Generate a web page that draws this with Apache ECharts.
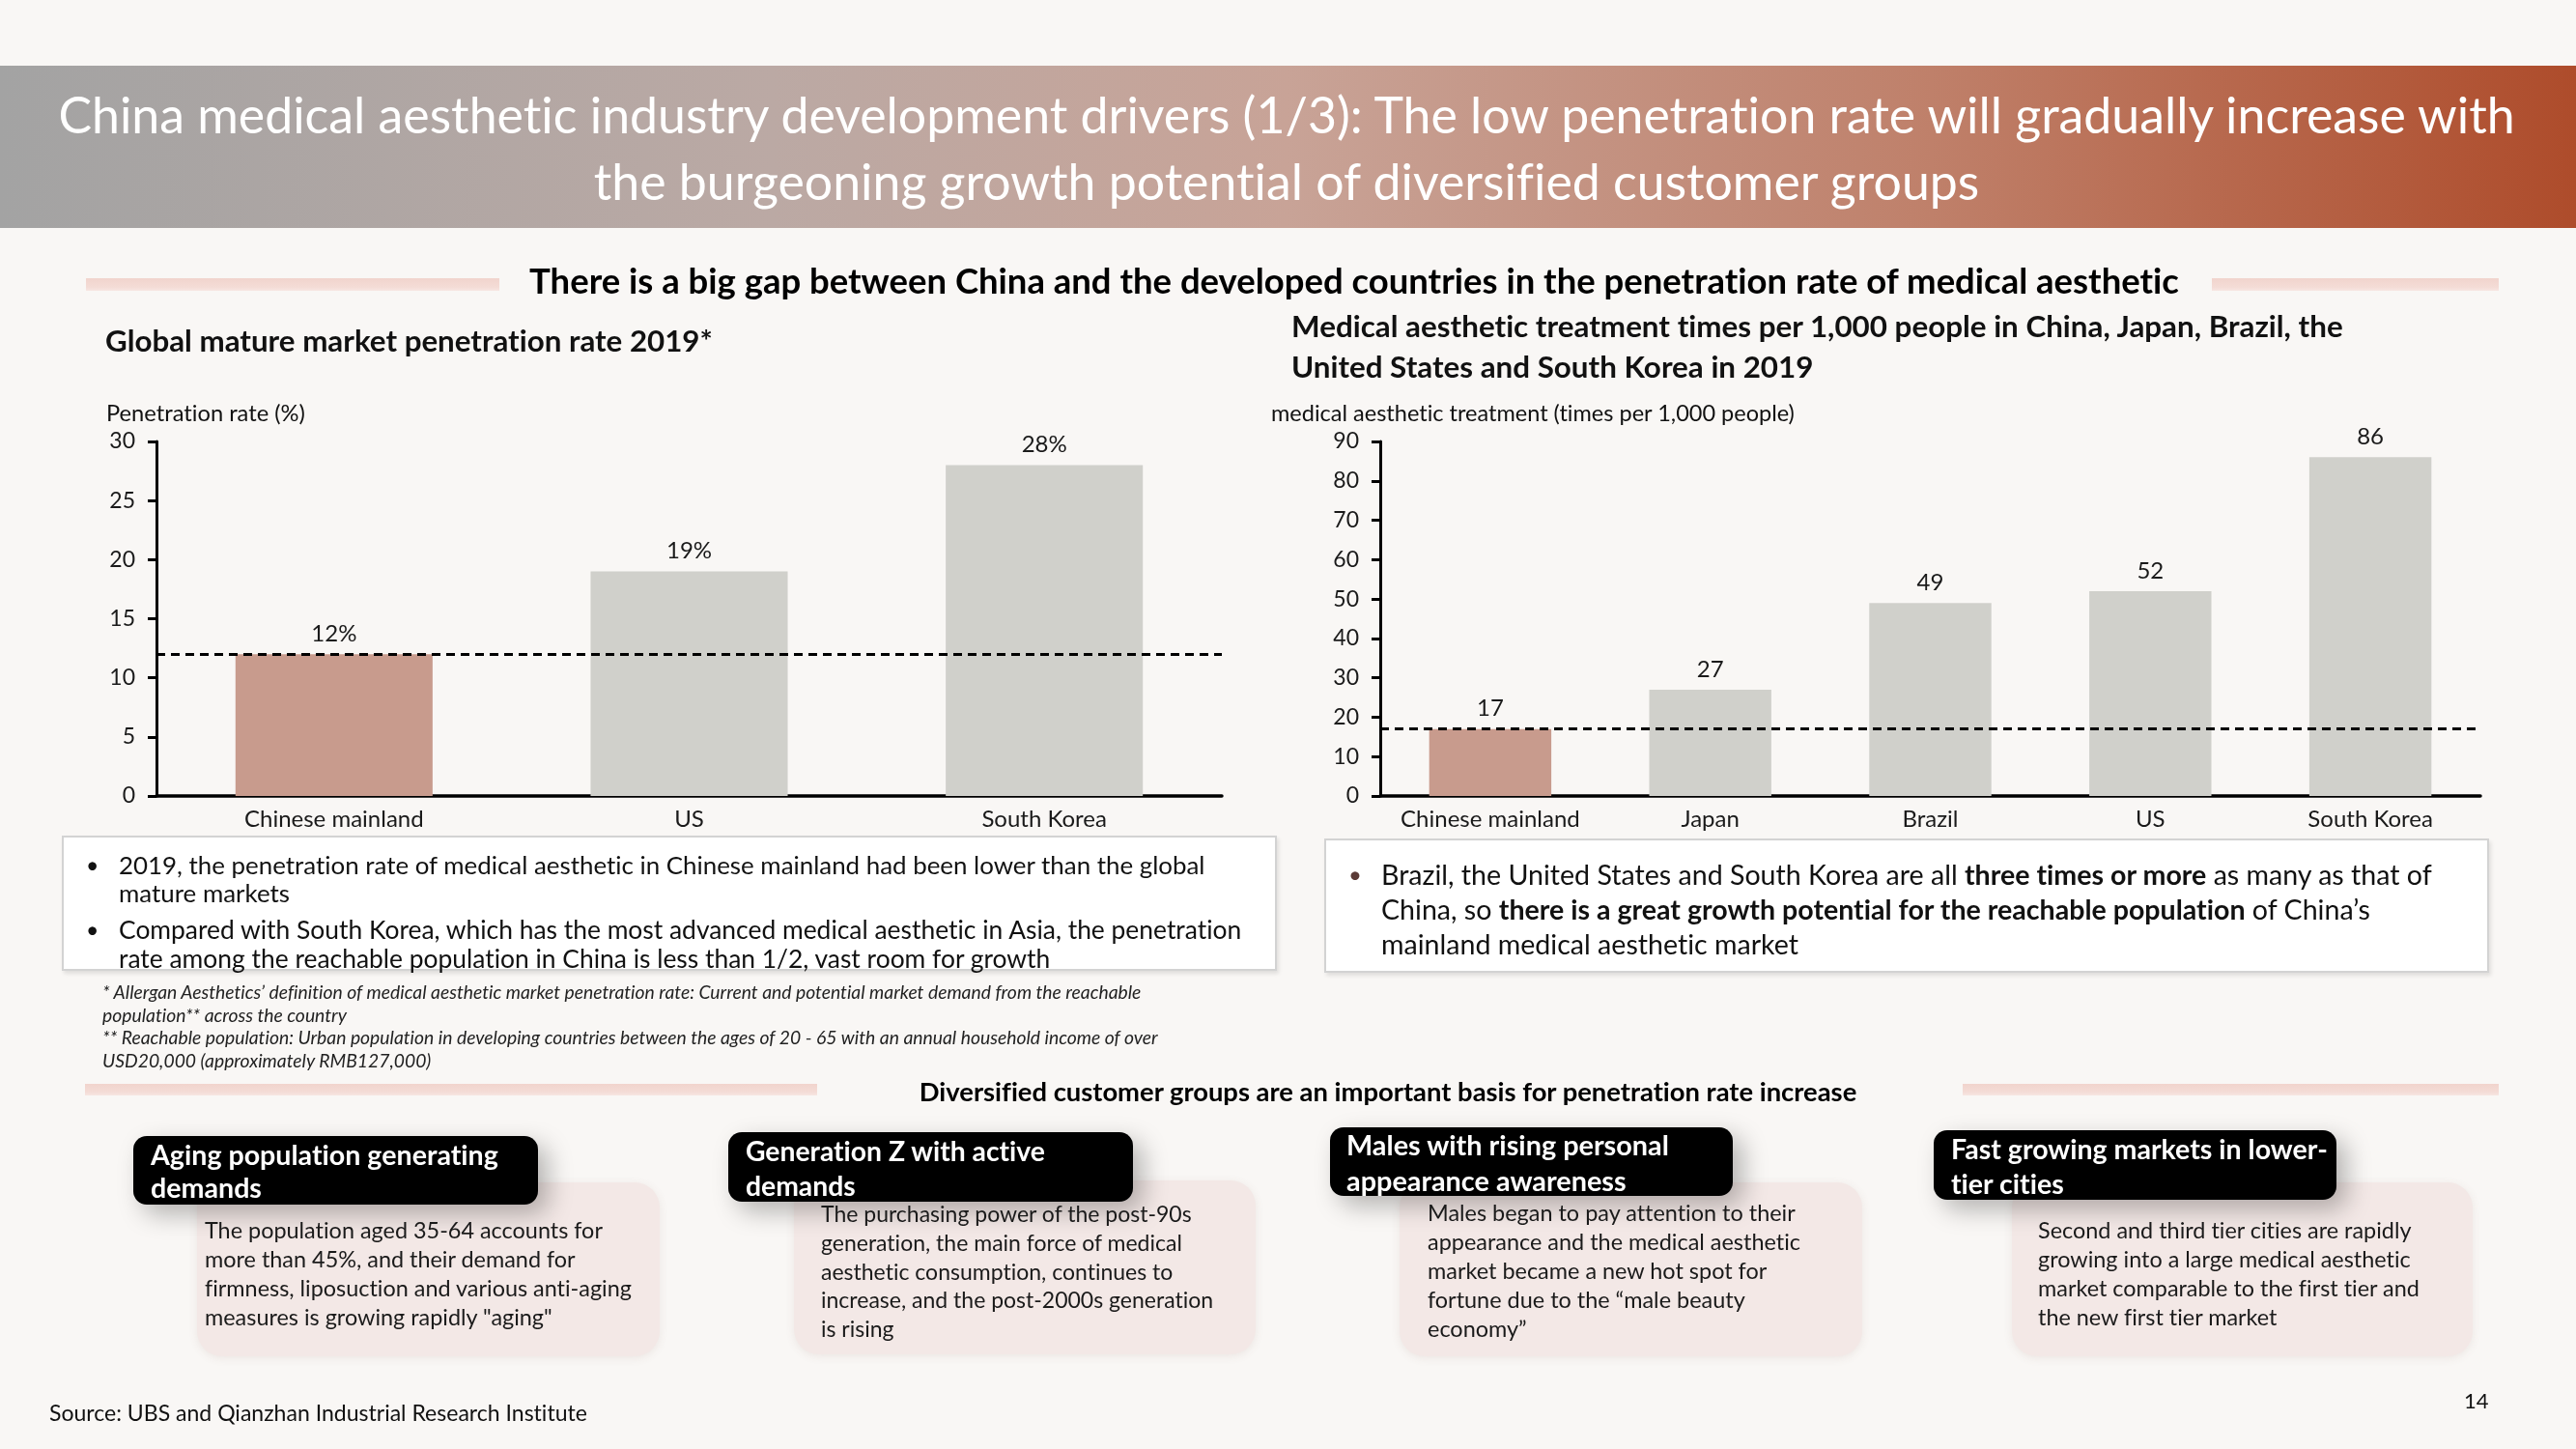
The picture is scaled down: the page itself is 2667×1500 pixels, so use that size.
<!DOCTYPE html>
<html>
<head>
<meta charset="utf-8">
<script src="https://cdn.jsdelivr.net/npm/echarts@6/dist/echarts.min.js"></script>
<style>
  html, body { margin:0; padding:0; width:2667px; height:1500px; overflow:hidden; background:#f9f7f5; font-family:'Lato','Open Sans',sans-serif; font-variant-ligatures:none; font-feature-settings:"liga" 0, "clig" 0, "dlig" 0; }
  #chart { position:absolute; left:0; top:0; width:2667px; height:1500px; z-index:2; }
  .abs { position:absolute; }
  .tx { position:absolute; white-space:nowrap; z-index:3; }
  .ln { display:inline-block; }
  #header { left:0; top:68px; width:2667px; height:168px;
    background:linear-gradient(90deg,#a3a3a3 0%,#bba9a4 30%,#c8a397 50%,#bf806a 75%,#ae4c2b 100%); }
  .pinkbar { background:linear-gradient(180deg,#f1d4cd 0%,#f4dcd6 70%,#f7e6e2 100%); }
  .box { background:#ffffff; border:2px solid #d3d3d3; box-shadow:2px 3px 4px rgba(0,0,0,0.10); box-sizing:border-box; }
  .card { background:#f3e8e6; border-radius:26px; box-shadow:0 2px 10px rgba(120,80,70,0.10); }
  .tag { background:#000; border-radius:14px; box-shadow:10px 10px 26px rgba(0,0,0,0.28); z-index:3; }
</style>
</head>
<body>
<div id="header" class="abs"></div>
<div id="chart"></div>
<script>
// ---------- Data ----------
const penetrationCategories = ['Chinese mainland', 'US', 'South Korea'];
const penetrationValues = [12, 19, 28];
const penetrationChinaLevel = 12;
const penetrationAxis = { min: 0, max: 30, interval: 5 };

const treatmentCategories = ['Chinese mainland', 'Japan', 'Brazil', 'US', 'South Korea'];
const treatmentValues = [17, 27, 49, 52, 86];
const treatmentChinaLevel = 17;
const treatmentAxis = { min: 0, max: 90, interval: 10 };

// ---------- Static layout (boxes) ----------
function addBox(cls, x1, y1, x2, y2) {
  const d = document.createElement('div');
  d.className = 'abs ' + cls;
  d.style.left = x1 + 'px'; d.style.top = y1 + 'px';
  d.style.width = (x2 - x1) + 'px'; d.style.height = (y2 - y1) + 'px';
  document.body.appendChild(d);
  return d;
}
addBox('pinkbar', 89, 288, 517, 301);
addBox('pinkbar', 2290, 288, 2587, 301);
addBox('pinkbar', 88, 1122, 846, 1134);
addBox('pinkbar', 2032, 1122, 2587, 1134);
addBox('box', 64, 865, 1322, 1005);
addBox('box', 1371, 868, 2577, 1007);

const cards = [
  { pink:[204,1224,683,1404], tag:[138,1176,557,1247],
    label:{x:156, yc:1195, lh:34, t:0, w:360, lines:['Aging population generating','demands']},
    body:{x:212, yc:1273, lh:30, t:2, w:442, lines:['The population aged 35-64 accounts for','more than 45%, and their demand for','firmness, liposuction and various anti-aging','measures is growing rapidly "aging"']} },
  { pink:[822,1222,1300,1402], tag:[754,1172,1173,1244],
    label:{x:772, yc:1191, lh:36, t:0, w:310, lines:['Generation Z with active','demands']},
    body:{x:850, yc:1257, lh:29.7, t:3, w:406, lines:['The purchasing power of the post-90s','generation, the main force of medical','aesthetic consumption, continues to','increase, and the post-2000s generation','is rising']} },
  { pink:[1449,1224,1928,1404], tag:[1377,1167,1794,1238],
    label:{x:1394, yc:1185, lh:37, t:0, w:334, lines:['Males with rising personal','appearance awareness']},
    body:{x:1478, yc:1255, lh:30, t:1, w:386, lines:['Males began to pay attention to their','appearance and the medical aesthetic','market became a new hot spot for','fortune due to the \u201cmale beauty','economy\u201d']} },
  { pink:[2083,1224,2560,1404], tag:[2002,1170,2419,1242],
    label:{x:2020, yc:1189, lh:36, t:0, w:390, lines:['Fast growing markets in lower-','tier cities']},
    body:{x:2110, yc:1273, lh:30, t:2, w:395, lines:['Second and third tier cities are rapidly','growing into a large medical aesthetic','market comparable to the first tier and','the new first tier market']} }
];
cards.forEach(c => {
  addBox('card', ...c.pink);
  addBox('tag', ...c.tag);
});

// ---------- Text ----------
const fitList = [];
function addText(s) {
  const d = document.createElement('div');
  d.className = 'tx';
  d.style.lineHeight = s.lh + 'px';
  d.style.top = (s.yc - s.lh / 2) + 'px';
  d.style.fontSize = s.size + 'px';
  d.style.fontWeight = s.bold ? '700' : '400';
  d.style.color = s.color || '#111';
  if (s.italic) d.style.fontStyle = 'italic';
  if (s.center) { d.style.left = s.x + 'px'; d.style.transform = 'translateX(-50%)'; d.style.textAlign = 'center'; }
  else d.style.left = s.x + 'px';
  d.innerHTML = s.lines.map(l => '<span class="ln">' + l + '</span>').join('<br>');
  document.body.appendChild(d);
  if (s.w) fitList.push({ el: d, s });
  return d;
}

addText({ x:1332, yc:118, lh:69, size:48, color:'#ffffff', center:true, t:0, w:2544,
  lines:['China medical aesthetic industry development drivers (1/3): The low penetration rate will gradually increase with',
         'the burgeoning growth potential of diversified customer groups'] });
addText({ x:1402, yc:290, lh:40, size:33, bold:true, color:'#000', center:true, t:0, w:1708,
  lines:['There is a big gap between China and the developed countries in the penetration rate of medical aesthetic'] });
addText({ x:109, yc:352, lh:36, size:28, bold:true, color:'#111', t:0, w:629,
  lines:['Global mature market penetration rate 2019*'] });
addText({ x:1337, yc:337, lh:42, size:27, bold:true, color:'#111', t:0, w:1089,
  lines:['Medical aesthetic treatment times per 1,000 people in China, Japan, Brazil, the','United States and South Korea in 2019'] });
addText({ x:110, yc:427, lh:26, size:20, color:'#111', t:0, w:206, lines:['Penetration rate (%)'] });
addText({ x:1316, yc:427, lh:26, size:20, color:'#111', t:0, w:542, lines:['medical aesthetic treatment (times per 1,000 people)'] });

// left bullets
addText({ x:89, yc:895, lh:29, size:23, color:'#111', lines:['\u2022'] });
addText({ x:123, yc:895, lh:29, size:23, color:'#111', t:0, w:1125,
  lines:['2019, the penetration rate of medical aesthetic in Chinese mainland had been lower than the global','mature markets'] });
addText({ x:89, yc:962, lh:29, size:23, color:'#111', lines:['\u2022'] });
addText({ x:123, yc:962, lh:30, size:23, color:'#111', t:0, w:1163,
  lines:['Compared with South Korea, which has the most advanced medical aesthetic in Asia, the penetration','rate among the reachable population in China is less than 1/2, vast room for growth'] });

// right bullet
addText({ x:1396, yc:905, lh:36, size:24, color:'#5a3a36', lines:['\u2022'] });
addText({ x:1430, yc:905, lh:36, size:24, color:'#111', t:0, w:1088,
  lines:['Brazil, the United States and South Korea are all <b>three times or more</b> as many as that of',
         'China, so <b>there is a great growth potential for the reachable population</b> of China\u2019s',
         'mainland medical aesthetic market'] });

// footnotes
addText({ x:106, yc:1027, lh:23.6, size:16, italic:true, color:'#222', t:0, w:1076,
  lines:['* Allergan Aesthetics\u2019 definition of medical aesthetic market penetration rate: Current and potential market demand from the reachable',
         'population** across the country',
         '** Reachable population: Urban population in developing countries between the ages of 20 - 65 with an annual household income of over',
         'USD20,000 (approximately RMB127,000)'] });

addText({ x:1437, yc:1130, lh:32, size:24, bold:true, color:'#000', center:true, t:0, w:971,
  lines:['Diversified customer groups are an important basis for penetration rate increase'] });

cards.forEach(c => {
  addText(Object.assign({ size:26, bold:true, color:'#ffffff' }, c.label));
  addText(Object.assign({ size:21, color:'#1a1a1a' }, c.body));
});

addText({ x:51, yc:1462, lh:28, size:21, color:'#111', t:0, w:557,
  lines:['Source: UBS and Qianzhan Industrial Research Institute'] });
addText({ x:2551, yc:1450, lh:28, size:22, color:'#111', lines:['14'] });

function fitAll() {
  fitList.forEach(({ el, s }) => {
    el.style.fontSize = s.size + 'px';
    const span = el.querySelectorAll('.ln')[s.t || 0];
    const w = span.getBoundingClientRect().width;
    if (w > 0) el.style.fontSize = (s.size * s.w / w).toFixed(2) + 'px';
  });
}
fitAll();
if (document.fonts && document.fonts.ready) document.fonts.ready.then(fitAll);

// ---------- Charts ----------
const FONT = 'Lato';
const chinaColor = '#c89b8d';
const otherColor = '#d0d0cb';

function barData(cats, vals) {
  return vals.map((v, i) => ({ value: v, itemStyle: { color: i === 0 ? chinaColor : otherColor } }));
}
function xAxisCfg(grid, cats) {
  return { type:'category', gridIndex:grid, data:cats,
    axisLine:{ show:true, lineStyle:{ color:'#000', width:3.5 } },
    axisTick:{ show:false },
    axisLabel:{ interval:0, hideOverlap:false, fontFamily:FONT, fontSize:24, color:'#1a1a1a', margin:12 } };
}
function yAxisCfg(grid, ax) {
  return { type:'value', gridIndex:grid, min:ax.min, max:ax.max, interval:ax.interval,
    axisLine:{ show:true, lineStyle:{ color:'#000', width:3 } },
    axisTick:{ show:true, length:9, lineStyle:{ color:'#000', width:3 } },
    splitLine:{ show:false },
    axisLabel:{ fontFamily:FONT, fontSize:23, color:'#1a1a1a', margin:22 } };
}
function markLineCfg(level) {
  return { symbol:'none', silent:true, label:{ show:false },
    lineStyle:{ color:'#000', width:3, type:[9, 6] },
    emphasis:{ disabled:true },
    data:[{ yAxis: level }] };
}

const chart = echarts.init(document.getElementById('chart'), null, { renderer:'canvas' });
chart.setOption({
  backgroundColor:'transparent',
  animation:false,
  grid:[
    { left:162, top:457, width:1103, height:367 },
    { left:1429, top:457, width:1139, height:367 }
  ],
  xAxis:[ xAxisCfg(0, penetrationCategories), xAxisCfg(1, treatmentCategories) ],
  yAxis:[ yAxisCfg(0, penetrationAxis), yAxisCfg(1, treatmentAxis) ],
  series:[
    { type:'bar', xAxisIndex:0, yAxisIndex:0, barWidth:'55.5%',
      data:barData(penetrationCategories, penetrationValues),
      label:{ show:true, position:'top', distance:9, formatter:'{c}%', fontFamily:FONT, fontSize:24, color:'#1a1a1a' },
      markLine:markLineCfg(penetrationChinaLevel) },
    { type:'bar', xAxisIndex:1, yAxisIndex:1, barWidth:'55.5%',
      data:barData(treatmentCategories, treatmentValues),
      label:{ show:true, position:'top', distance:9, formatter:'{c}', fontFamily:FONT, fontSize:24, color:'#1a1a1a' },
      markLine:markLineCfg(treatmentChinaLevel) }
  ]
});
</script>
</body>
</html>
